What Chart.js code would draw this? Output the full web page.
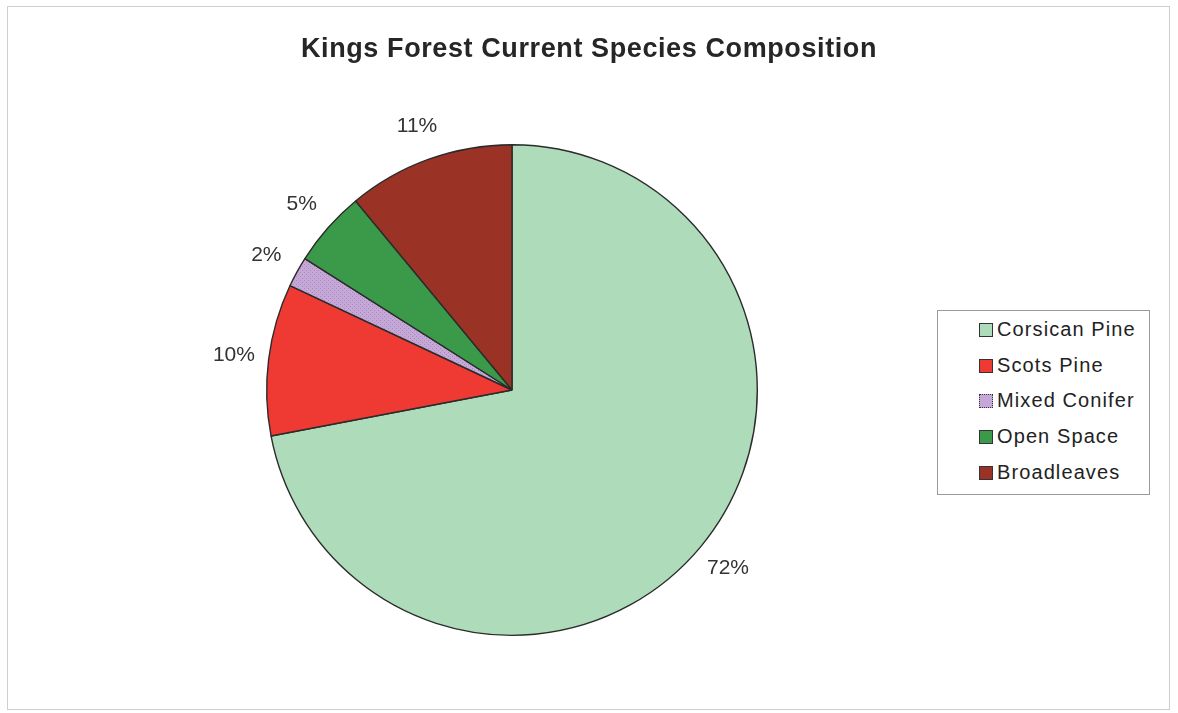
<!DOCTYPE html>
<html>
<head>
<meta charset="utf-8">
<script src="https://cdn.jsdelivr.net/npm/chart.js@4.4.1/dist/chart.umd.min.js"></script>
<style>
  html, body { margin: 0; padding: 0; background: #fff; }
  #wrap { position: relative; width: 1178px; height: 713px; overflow: hidden; font-family: "Liberation Sans", Arial, sans-serif; }
  #frame { position: absolute; left: 7px; top: 6px; width: 1163px; height: 704px; border: 1px solid #cfcfcf; box-sizing: border-box; }
  #title { position: absolute; left: 0; top: 35px; width: 1178px; text-align: center; font-weight: bold; font-size: 27px; line-height: 27px; letter-spacing: 0.6px; color: #262626; }
  #legend { position: absolute; left: 937px; top: 310px; width: 213px; height: 185px; border: 1px solid #9a9a9a; box-sizing: border-box; background: #fff; }
  .item { position: absolute; left: 41px; height: 24px; line-height: 24px; font-size: 20px; letter-spacing: 1.1px; color: #222; white-space: nowrap; }
  .swatch { display: inline-block; width: 12px; height: 12px; border: 1px solid #333; margin-right: 4px; vertical-align: -1px; }
  canvas { position: absolute; left: 0; top: 0; }
</style>
</head>
<body>
<div id="wrap">
  <div id="frame"></div>
  <canvas id="pie" width="1178" height="713"></canvas>
  <div id="title"></div>
  <div id="legend"></div>
</div>
<script>
const chartTitle = "Kings Forest Current Species Composition";
const species = ["Corsican Pine", "Scots Pine", "Mixed Conifer", "Open Space", "Broadleaves"];
const shares = [72, 10, 2, 5, 11];
const sliceColors = ["#aedcbb", "#ee3a33", "#c6a8d8", "#3b9a4a", "#9b3226"];

document.getElementById("title").textContent = chartTitle;

// the mixed conifer slice has a faint dotted fill in the original
function dotted(base) {
  const c = document.createElement("canvas");
  c.width = 4; c.height = 4;
  const g = c.getContext("2d");
  g.fillStyle = base;
  g.fillRect(0, 0, 4, 4);
  g.fillStyle = "#a58cb8";
  g.fillRect(0, 0, 1, 1);
  g.fillRect(2, 2, 1, 1);
  return g.createPattern(c, "repeat");
}
const fills = sliceColors.map((c, i) => i === 2 ? dotted(c) : c);

// legend box like the Excel one
const legend = document.getElementById("legend");
species.forEach((name, i) => {
  const row = document.createElement("div");
  row.className = "item";
  row.style.top = (6 + i * 35.7) + "px";
  const sw = document.createElement("span");
  sw.className = "swatch";
  sw.style.background = sliceColors[i];
  if (i === 2) sw.style.borderStyle = "dotted";
  row.appendChild(sw);
  row.appendChild(document.createTextNode(name));
  legend.appendChild(row);
});

// percentage labels just outside each slice
const outsideLabels = {
  id: "outsideLabels",
  afterDatasetsDraw(chart) {
    const ctx = chart.ctx;
    const meta = chart.getDatasetMeta(0);
    const total = shares.reduce((a, b) => a + b, 0);
    ctx.save();
    ctx.font = "21px 'Liberation Sans', Arial, sans-serif";
    ctx.fillStyle = "#333";
    ctx.textAlign = "center";
    ctx.textBaseline = "middle";
    meta.data.forEach((arc, i) => {
      const p = arc.getProps(["x", "y", "startAngle", "endAngle", "outerRadius"], true);
      const mid = (p.startAngle + p.endAngle) / 2;
      const r = p.outerRadius + 35;
      const pct = Math.round(shares[i] / total * 100) + "%";
      ctx.fillText(pct, p.x + Math.cos(mid) * r, p.y + Math.sin(mid) * r);
    });
    ctx.restore();
  }
};

new Chart(document.getElementById("pie").getContext("2d"), {
  type: "pie",
  data: {
    labels: species,
    datasets: [{
      data: shares,
      backgroundColor: fills,
      borderColor: "#2b2b2b",
      borderWidth: 1.4
    }]
  },
  options: {
    responsive: false,
    animation: false,
    layout: { padding: { left: 266, right: 420, top: 144, bottom: 77 } },
    plugins: {
      legend: { display: false },
      tooltip: { enabled: false },
      title: { display: false }
    }
  },
  plugins: [outsideLabels]
});
</script>
</body>
</html>
